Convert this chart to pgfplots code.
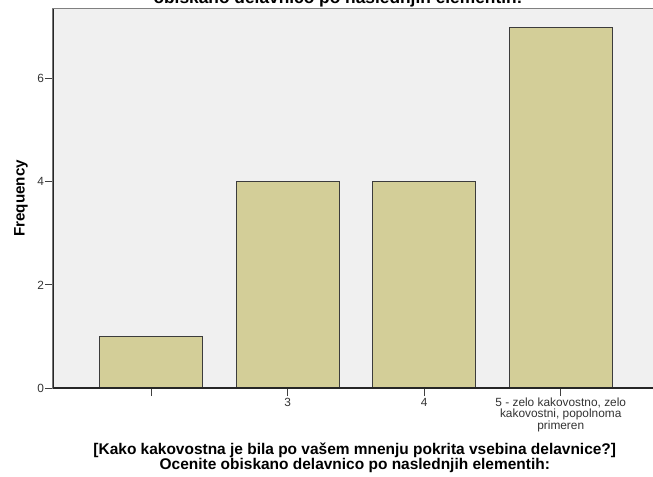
\documentclass[border=0pt]{standalone}
\usepackage{fontspec}
\setmainfont{Liberation Sans}
\usepackage{pgfplots}
\pgfplotsset{compat=1.18}

\definecolor{plotbg}{HTML}{F0F0F0}
\definecolor{barfill}{HTML}{D3CE98}
\definecolor{baredge}{HTML}{3C3C3C}

\begin{document}
\begin{tikzpicture}
  \begin{axis}[
      scale only axis,
      width=454.5pt,
      height=284.6pt,
      xmin=-0.72, xmax=3.72,
      ymin=0, ymax=7.36,
      axis background/.style={fill=plotbg},
      axis line style={draw=black!50, line width=1.2pt},
      tick align=outside,
      xtick pos=bottom,
      ytick pos=left,
      major tick length=6pt,
      tick style={draw=black!75, line width=0.7pt},
      xtick={0,1,2,3},
      xticklabels={{}, 3, 4, {5 - zelo kakovostno, zelo\\kakovostni, popolnoma\\primeren}},
      ytick={0,2,4,6},
      /pgf/number format/assume math mode=true,
      ticklabel style={font=\fontsize{8.9}{7.7}\selectfont, text=black!80},
      xticklabel style={align=center, inner sep=1.5pt},
      yticklabel style={inner sep=0.6pt},
      ylabel={Frequency},
      ylabel style={font=\bfseries\fontsize{11.4}{11.5}\selectfont, at={(axis description cs:-0.0528,0.5)}, anchor=center},
      xlabel={[Kako kakovostna je bila po vašem mnenju pokrita vsebina delavnice?]\\Ocenite obiskano delavnico po naslednjih elementih:},
      xlabel style={font=\bfseries\fontsize{11.6}{11.3}\selectfont, align=center, at={(axis description cs:0.498,-0.185)}, anchor=center},
    ]
    \addplot[ybar, bar width=0.755, fill=barfill, draw=baredge, line width=0.7pt]
      coordinates {(0,1) (1,4) (2,4) (3,7)};
    \draw[black!85, line width=0.9pt] (rel axis cs:0,0) -- (rel axis cs:0,1);
    \draw[black!85, line width=0.9pt] (rel axis cs:0,0) -- (rel axis cs:1,0);
  \end{axis}
  \node[anchor=base, font=\bfseries\fontsize{13}{13}\selectfont] at (213.75pt,288.75pt)
    {obiskano delavnico po naslednjih elementih:};
  \pgfresetboundingbox
  \useasboundingbox (-39.75pt,-66pt) rectangle (450pt,291pt);
\end{tikzpicture}
\end{document}
